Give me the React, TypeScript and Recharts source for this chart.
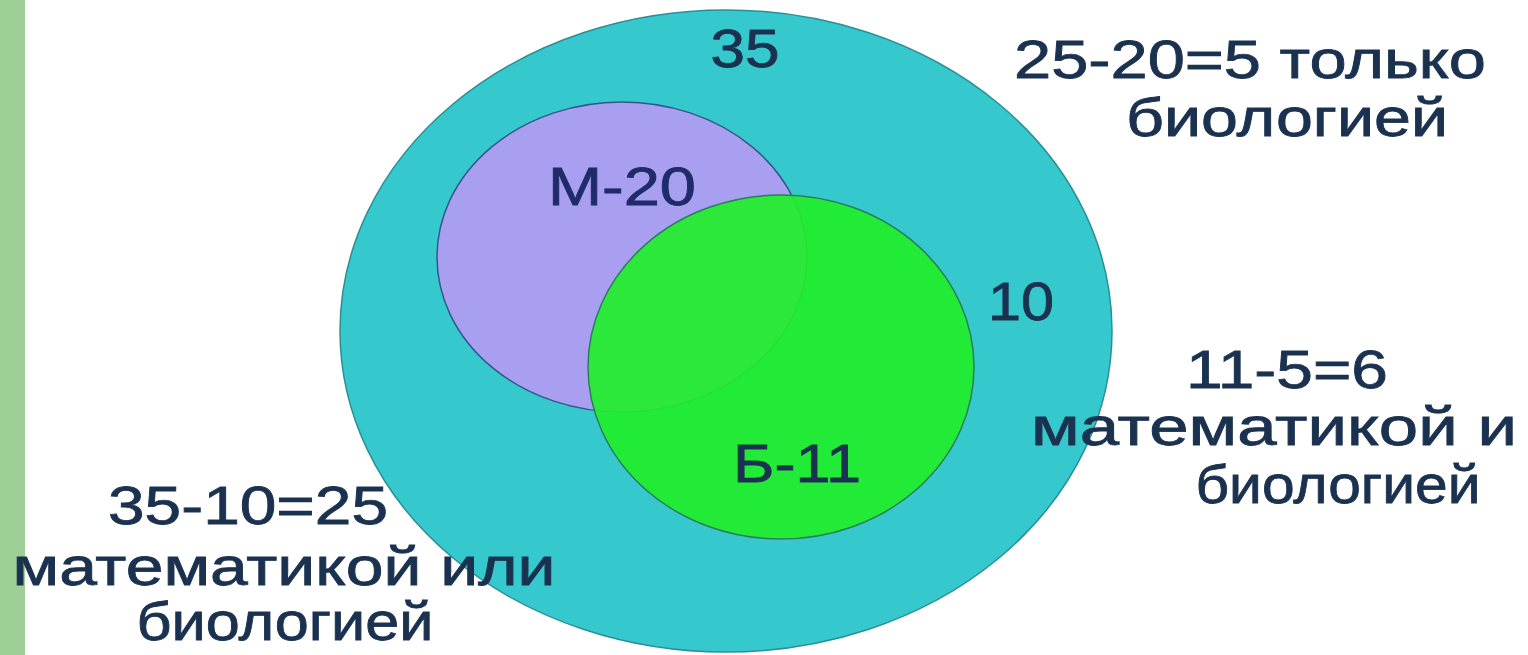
import { ScatterChart, Scatter, XAxis, YAxis, ReferenceArea } from 'recharts';

const W = 1528;
const H = 655;

// sets: centre and radii in chart units
const setNames = ['Всего', 'Математика', 'Биология'];
const setX = [726, 622, 781];
const setY = [331, 257, 367];
const setRx = [386, 185, 193];
const setRy = [321, 155, 172];

// text labels: baseline anchor (centre x) and width in chart units
const labelTexts = [
  '35',
  'М-20',
  '10',
  'Б-11',
  '25-20=5 только',
  'биологией',
  '11-5=6',
  'математикой и',
  'биологией',
  '35-10=25',
  'математикой или',
  'биологией',
];
const labelX = [745, 622, 1021, 797, 1250, 1287, 1287, 1274, 1338, 248, 284, 285];
const labelY = [67, 205, 320, 482, 78, 136, 388, 445, 503, 524, 585, 640];
const labelW = [69, 148, 66, 128, 472, 322, 202, 486, 285, 280, 543, 297];

const setStyles = [
  { fill: '#35C9CD', stroke: '#2b8e98', opacity: 1 },
  { fill: '#A99FF1', stroke: '#34568c', opacity: 1 },
  { fill: '#21EE2B', stroke: '#2a7d5c', opacity: 0.92 },
];

const setData = setNames.map((name, i) => ({
  name,
  x: setX[i],
  y: setY[i],
  rx: setRx[i],
  ry: setRy[i],
}));

const labelData = labelTexts.map((text, i) => ({
  text,
  x: labelX[i],
  y: labelY[i],
  w: labelW[i],
}));

// plot area == svg, so one chart unit is one pixel
const KX = W / W;
const KY = H / H;

const ellipseShape = (style: { fill: string; stroke: string; opacity: number }) => (props: any) => {
  const { cx, cy, payload } = props;
  return (
    <ellipse
      cx={cx}
      cy={cy}
      rx={payload.rx * KX}
      ry={payload.ry * KY}
      fill={style.fill}
      fillOpacity={style.opacity}
      stroke={style.stroke}
      strokeWidth={1.5}
    />
  );
};

const labelShape = (props: any) => {
  const { cx, cy, payload } = props;
  const color = payload.text === 'М-20' ? '#1f2b6a' : '#1b3150';
  return (
    <text
      x={cx}
      y={cy}
      textAnchor="middle"
      textLength={payload.w * KX}
      lengthAdjust="spacingAndGlyphs"
      fontSize={53}
      fontFamily="'Liberation Sans', Arial, sans-serif"
      fill={color}
      stroke={color}
      strokeWidth={0.8}
    >
      {payload.text}
    </text>
  );
};

export default function App() {
  return (
    <div style={{ position: 'absolute', left: 0, top: 0, width: W, height: H, background: '#fff' }}>
      <ScatterChart width={W} height={H} margin={{ top: 0, right: 0, bottom: 0, left: 0 }}>
        <XAxis type="number" dataKey="x" domain={[0, W]} hide />
        <YAxis type="number" dataKey="y" domain={[0, H]} reversed hide />
        <ReferenceArea x1={0} x2={25} y1={0} y2={H} fill="#9ecf96" fillOpacity={1} stroke="none" />
        {setData.map((d, i) => (
          <Scatter
            key={d.name}
            name={d.name}
            data={[d]}
            shape={ellipseShape(setStyles[i])}
            isAnimationActive={false}
          />
        ))}
        <Scatter name="labels" data={labelData} shape={labelShape} isAnimationActive={false} />
      </ScatterChart>
    </div>
  );
}
